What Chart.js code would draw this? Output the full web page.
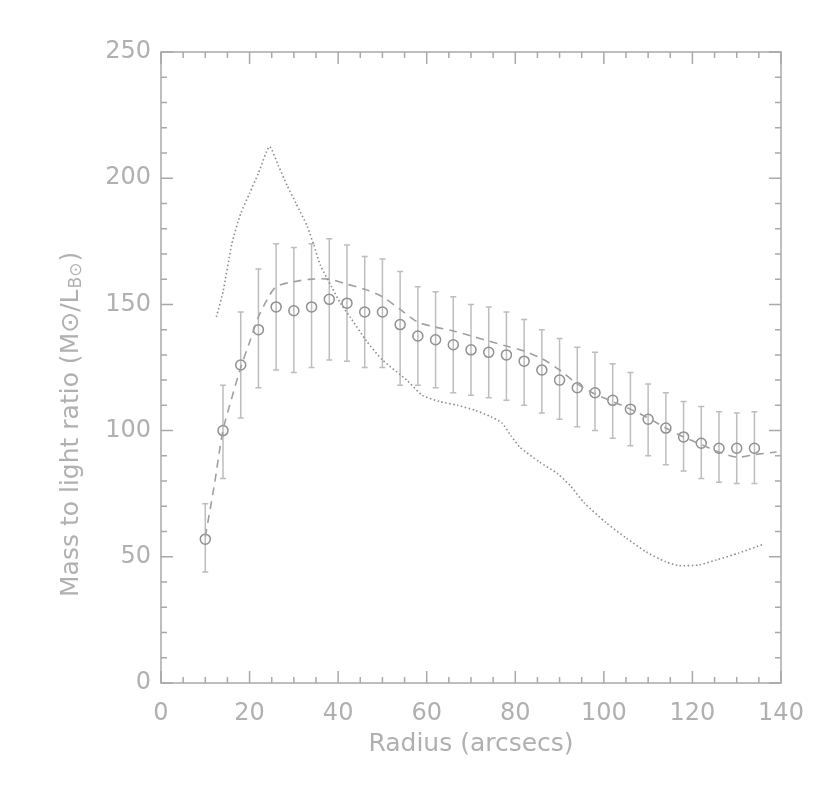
<!DOCTYPE html>
<html>
<head>
<meta charset="utf-8">
<title>Mass to light ratio</title>
<script src="https://cdn.jsdelivr.net/npm/chart.js@4/dist/chart.umd.min.js"></script>
<style>
  body { margin: 0; background: #fff; }
  #wrap { width: 830px; height: 786px; }
</style>
</head>
<body>
<div id="wrap"><canvas id="ml-chart" width="830" height="786"></canvas></div>
<script>
// measured points with error bars
var radius = [10, 14, 18, 22, 26, 30, 34, 38, 42, 46, 50, 54, 58, 62, 66, 70,
  74, 78, 82, 86, 90, 94, 98, 102, 106, 110, 114, 118, 122, 126, 130, 134];
var mlRatio = [57, 100, 126, 140, 149, 147.5, 149, 152, 150.5, 147, 147, 142, 137.5, 136, 134, 132,
  131, 130, 127.5, 124, 120, 117, 115, 112, 108.5, 104.5, 101, 97.5, 95, 93, 93, 93];
var errLow = [44, 81, 105, 117, 124, 123, 125, 128, 127.5, 125, 125, 118, 118, 117, 115, 114,
  113, 112, 110, 107, 104.5, 101.5, 100, 97, 94, 90, 86.5, 84, 81, 79.5, 79, 79];
var errHigh = [71, 118, 147, 164, 174, 172.5, 174, 176, 173.5, 169, 168, 163, 157, 155, 153, 150,
  149, 147, 144, 140, 136.5, 133, 131, 126.5, 123, 118.5, 115, 111.5, 109.5, 107.5, 107, 107.5];

// dashed curve
var modelR = [10, 12, 14, 16, 18, 20, 22, 24, 26, 30, 34, 38, 42, 46, 50, 54, 58, 62, 66,
  70, 74, 78, 82, 86, 90, 94, 98, 102, 106, 110, 114, 118, 122, 126, 130, 134, 139];
var modelML = [58, 78, 100, 113, 125, 135, 145, 152, 157, 159, 160, 160, 158, 156, 153, 148, 143, 141, 139.5,
  137.5, 135.5, 133.5, 131.5, 128.5, 124, 118.5, 114.5, 111.5, 108.5, 105, 101, 97.5, 94.5, 91.5, 89.5, 90.5, 91.5];

// dotted curve
var dotR = [12.5, 14, 16, 18, 20, 22, 24.5, 26.5, 28.5, 30.5, 33, 34.5, 36, 38.5, 40.5, 42.7, 46.4, 50,
  55.5, 59, 63, 67, 71, 74.5, 77, 79, 81, 85.5, 89.5, 92.5, 95.5, 100.5, 105, 109.5, 114, 117, 121.5,
  125.5, 130.5, 136];
var dotML = [145, 155, 174, 186, 194, 202, 212.5, 205, 197, 190, 181, 173.5, 165.5, 157, 150.5, 145, 135.5, 128,
  120, 114, 111.5, 110, 108, 105.5, 103, 98, 93.5, 87.5, 83, 78, 71.5, 63.5, 57.5, 52, 48, 46.5, 46.8,
  48.8, 51.5, 55];

var xTicks = [0, 20, 40, 60, 80, 100, 120, 140];
var yTicks = [0, 50, 100, 150, 200, 250];
var xLabel = 'Radius (arcsecs)';
var yLabelMain = 'Mass to light ratio (M\u2299/L';
var yLabelSub = 'B\u2299';
var yLabelEnd = ')';

var axisColor = '#a9a9a9';
var textColor = '#b0b0b0';
var fontFamily = '"DejaVu Sans", sans-serif';

function toPoints(xs, ys) {
  var pts = [];
  for (var i = 0; i < xs.length; i++) {
    pts.push({x: xs[i], y: ys[i]});
  }
  return pts;
}

// error bars, drawn under the circles
var errorBarPlugin = {
  id: 'errorBars',
  beforeDatasetsDraw: function(chart) {
    var ctx = chart.ctx;
    var xs = chart.scales.x;
    var ys = chart.scales.y;
    ctx.save();
    ctx.strokeStyle = '#bdbdbd';
    ctx.lineWidth = 1.5;
    for (var i = 0; i < radius.length; i++) {
      var px = xs.getPixelForValue(radius[i]);
      var lo = ys.getPixelForValue(errLow[i]);
      var hi = ys.getPixelForValue(errHigh[i]);
      ctx.beginPath();
      ctx.moveTo(px, lo);
      ctx.lineTo(px, hi);
      ctx.moveTo(px - 3, lo);
      ctx.lineTo(px + 3, lo);
      ctx.moveTo(px - 3, hi);
      ctx.lineTo(px + 3, hi);
      ctx.stroke();
    }
    ctx.restore();
  }
};

// box round the plot with inward major/minor ticks on all four sides
var framePlugin = {
  id: 'frame',
  afterDraw: function(chart) {
    var ctx = chart.ctx;
    var a = chart.chartArea;
    var xs = chart.scales.x;
    var ys = chart.scales.y;
    var v, p, len;
    ctx.save();
    ctx.strokeStyle = axisColor;
    ctx.lineWidth = 1.5;
    ctx.strokeRect(a.left, a.top, a.right - a.left, a.bottom - a.top);
    ctx.beginPath();
    for (v = xs.min; v <= xs.max; v += 5) {
      p = xs.getPixelForValue(v);
      len = (v % 20 === 0) ? 12 : 6;
      ctx.moveTo(p, a.bottom);
      ctx.lineTo(p, a.bottom - len);
      ctx.moveTo(p, a.top);
      ctx.lineTo(p, a.top + len);
    }
    for (v = ys.min; v <= ys.max; v += 10) {
      p = ys.getPixelForValue(v);
      len = (v % 50 === 0) ? 12 : 6;
      ctx.moveTo(a.left, p);
      ctx.lineTo(a.left + len, p);
      ctx.moveTo(a.right, p);
      ctx.lineTo(a.right - len, p);
    }
    ctx.stroke();

    // y title with the subscript on L
    ctx.translate(71, 597);
    ctx.rotate(-Math.PI / 2);
    ctx.fillStyle = textColor;
    ctx.textBaseline = 'middle';
    ctx.textAlign = 'left';
    ctx.font = '25px ' + fontFamily;
    ctx.fillText(yLabelMain, 0, 0);
    var w = ctx.measureText(yLabelMain).width;
    ctx.font = '17px ' + fontFamily;
    ctx.fillText(yLabelSub, w + 1, 6);
    var w2 = ctx.measureText(yLabelSub).width;
    ctx.font = '25px ' + fontFamily;
    ctx.fillText(yLabelEnd, w + w2 + 2, 0);
    ctx.restore();
  }
};

var mlChart = new Chart(document.getElementById('ml-chart').getContext('2d'), {
  type: 'scatter',
  data: {
    datasets: [
      {
        data: toPoints(dotR, dotML),
        showLine: true,
        borderColor: '#8c8c8c',
        borderWidth: 1.6,
        borderDash: [1.5, 2.5],
        pointRadius: 0,
        tension: 0.2
      },
      {
        data: toPoints(modelR, modelML),
        showLine: true,
        borderColor: '#a0a0a0',
        borderWidth: 1.6,
        borderDash: [8, 6],
        pointRadius: 0,
        tension: 0.3
      },
      {
        data: toPoints(radius, mlRatio),
        showLine: false,
        pointStyle: 'circle',
        pointRadius: 5,
        pointBorderWidth: 1.5,
        pointBorderColor: '#909090',
        pointBackgroundColor: 'rgba(0,0,0,0)'
      }
    ]
  },
  options: {
    responsive: false,
    animation: false,
    layout: { padding: { top: 52, right: 49, left: 0, bottom: 0 } },
    plugins: {
      legend: { display: false },
      tooltip: { enabled: false }
    },
    scales: {
      x: {
        type: 'linear',
        min: xTicks[0],
        max: xTicks[xTicks.length - 1],
        afterBuildTicks: function(scale) {
          scale.ticks = xTicks.map(function(v) { return {value: v}; });
        },
        afterFit: function(scale) { scale.height = 103; },
        grid: { display: false, drawTicks: false },
        border: { display: false },
        ticks: { color: textColor, font: { family: fontFamily, size: 24 }, padding: 16, maxRotation: 0 },
        title: {
          display: true,
          text: xLabel,
          color: textColor,
          font: { family: fontFamily, size: 25 },
          padding: { top: 4, bottom: 27 }
        }
      },
      y: {
        type: 'linear',
        min: yTicks[0],
        max: yTicks[yTicks.length - 1],
        afterBuildTicks: function(scale) {
          scale.ticks = yTicks.map(function(v) { return {value: v}; });
        },
        afterFit: function(scale) { scale.width = 161; },
        grid: { display: false, drawTicks: false },
        border: { display: false },
        ticks: { color: textColor, font: { family: fontFamily, size: 24 }, padding: 10 }
      }
    }
  },
  plugins: [errorBarPlugin, framePlugin]
});
</script>
</body>
</html>
